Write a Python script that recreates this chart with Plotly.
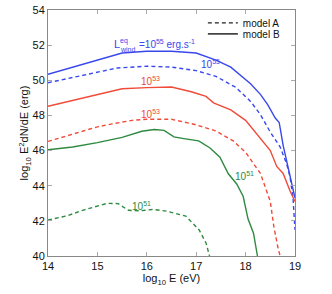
import plotly.graph_objects as go

# ---- data ----
blue_B_x = [14, 14.5, 15.0, 15.5, 16.0, 16.5, 17.0, 17.4, 17.7, 17.9, 18.1, 18.3, 18.45, 18.6, 18.68, 18.76, 18.85, 18.92, 19.0]
blue_B_y = [50.34, 50.75, 51.15, 51.55, 51.65, 51.65, 51.55, 51.15, 50.75, 50.3, 49.8, 49.2, 48.6, 47.85, 47.6, 46.3, 45.1, 44.2, 43.3]

blue_A_x = [14, 14.5, 15.0, 15.4, 16.0, 16.5, 17.0, 17.4, 17.8, 18.1, 18.3, 18.5, 18.7, 18.83, 18.9, 18.96, 19.0]
blue_A_y = [49.86, 50.15, 50.45, 50.7, 50.8, 50.75, 50.55, 50.22, 49.6, 48.8, 48.05, 47.05, 46.2, 45.25, 44.5, 43.3, 41.5]

red_B_x = [14, 14.5, 15.0, 15.5, 16.0, 16.5, 16.9, 17.2, 17.35, 17.7, 18.0, 18.3, 18.5, 18.63, 18.76, 18.9, 19.0]
red_B_y = [48.52, 48.85, 49.2, 49.52, 49.58, 49.62, 49.35, 49.08, 48.72, 48.32, 47.72, 46.72, 46.0, 45.1, 44.7, 43.7, 43.1]

red_A_x = [14, 14.5, 15.0, 15.3, 15.7, 16.0, 16.5, 16.95, 17.4, 17.75, 18.0, 18.15, 18.3, 18.5, 18.57, 18.66, 18.7]
red_A_y = [46.52, 46.95, 47.35, 47.52, 47.72, 47.78, 47.78, 47.5, 47.12, 46.55, 45.9, 45.3, 44.7, 43.1, 41.7, 40.4, 40.0]

green_B_x = [14, 14.5, 15.0, 15.5, 15.9, 16.15, 16.35, 16.55, 16.75, 17.05, 17.28, 17.48, 17.65, 17.82, 17.95, 18.05, 18.16, 18.24]
green_B_y = [46.05, 46.2, 46.45, 46.75, 47.1, 47.2, 47.15, 46.78, 46.68, 46.55, 46.15, 45.62, 44.68, 44.1, 43.4, 42.1, 41.3, 40.0]

green_A_x = [14, 14.4, 14.7, 15.0, 15.2, 15.42, 15.63, 15.86, 16.13, 16.4, 16.79, 17.06, 17.2, 17.27]
green_A_y = [42.05, 42.3, 42.6, 42.85, 43.0, 42.98, 42.6, 42.57, 42.65, 42.55, 42.27, 41.48, 40.73, 40.0]

x_ticks = [14, 15, 16, 17, 18, 19]
y_ticks = [40, 42, 44, 46, 48, 50, 52, 54]

BLUE = "#3848ee"
RED = "#f04a38"
GREEN = "#2e8a40"
FONT = "Liberation Sans, Arial, sans-serif"
LW = 1.4
DASH = "4px,3px"

fig = go.Figure()

series = [
    (blue_B_x, blue_B_y, BLUE, "solid"),
    (blue_A_x, blue_A_y, BLUE, DASH),
    (red_B_x, red_B_y, RED, "solid"),
    (red_A_x, red_A_y, RED, DASH),
    (green_B_x, green_B_y, GREEN, "solid"),
    (green_A_x, green_A_y, GREEN, DASH),
]
for xs, ys, c, d in series:
    fig.add_trace(go.Scatter(x=xs, y=ys, mode="lines", showlegend=False,
                             line=dict(color=c, width=LW, dash=d)))

# legend entries (two legends to control spacing)
fig.add_trace(go.Scatter(x=[None], y=[None], mode="lines", name="model A", legend="legend",
                         line=dict(color="#222", width=1.2, dash=DASH)))
fig.add_trace(go.Scatter(x=[None], y=[None], mode="lines", name="model B", legend="legend2",
                         line=dict(color="#444", width=1.8)))

ann = []
def lab(x, y, text, color, size=10, xanchor="left"):
    ann.append(dict(x=x, y=y, xref="x", yref="y", text=text, showarrow=False,
                    xanchor=xanchor, yanchor="middle",
                    font=dict(color=color, size=size, family=FONT)))

lab(15.30, 52.07, "L", BLUE, 11)
lab(15.41, 52.26, "eq", BLUE, 7)
lab(15.42, 51.78, "wind", BLUE, 7)
lab(15.80, 52.05, "=10<sup>55</sup> erg.s<sup>-1</sup>", BLUE, 10)
lab(17.05, 50.95, "10<sup>55</sup>", BLUE, 10)
lab(15.85, 49.95, "10<sup>53</sup>", RED, 10)
lab(15.85, 48.1, "10<sup>53</sup>", RED, 10)
lab(17.75, 44.55, "10<sup>51</sup>", GREEN, 10)
lab(15.65, 42.82, "10<sup>51</sup>", GREEN, 10)

axis_common = dict(showline=True, linecolor="#888", linewidth=1, mirror="ticks",
                   ticks="inside", ticklen=4, tickcolor="#aaa", showgrid=False,
                   zeroline=False, automargin=False,
                   tickfont=dict(size=11, color="#111", family=FONT))

leg_common = dict(xanchor="left", yanchor="middle", bgcolor="rgba(0,0,0,0)",
                  font=dict(size=10, color="#111", family=FONT), borderwidth=0)

fig.update_layout(
    template="none",
    width=332, height=294,
    margin=dict(l=48, r=37, t=8, b=38),
    paper_bgcolor="white", plot_bgcolor="white",
    font=dict(family=FONT, color="#111"),
    annotations=ann,
    legend=dict(x=0.627, y=0.948, **leg_common),
    legend2=dict(x=0.627, y=0.903, **leg_common),
    xaxis=dict(range=[14, 19], tickvals=x_ticks,
               title=dict(text="log<sub>10</sub> E (eV)", font=dict(size=11, family=FONT), standoff=0),
               **axis_common),
    yaxis=dict(range=[40, 54], tickvals=y_ticks,
               title=dict(text="log<sub>10</sub> E<sup>2</sup>dN/dE (erg)", font=dict(size=11, family=FONT), standoff=0),
               **axis_common),
)

fig.write_html("out.html", config={"displayModeBar": False},
               post_script="document.body.style.margin='0';document.body.style.overflow='hidden';")
